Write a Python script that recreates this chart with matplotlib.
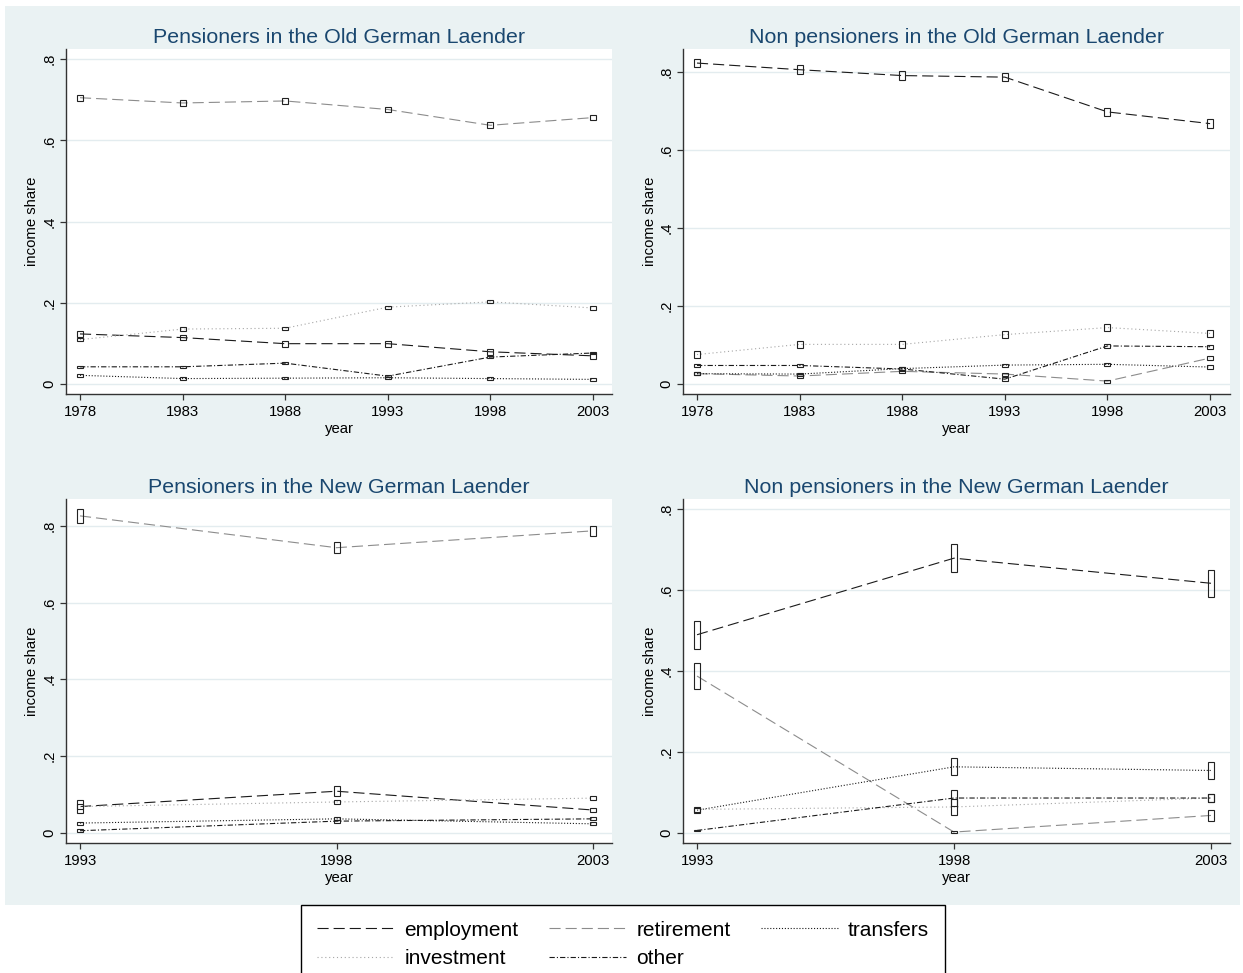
import numpy as np
import matplotlib
matplotlib.use("Agg")
import matplotlib.pyplot as plt
from matplotlib.lines import Line2D
from matplotlib.patches import Rectangle

plt.rcParams['font.family'] = ['Liberation Sans', 'DejaVu Sans']
plt.rcParams['lines.scale_dashes'] = False

# income components, in this order everywhere below
components = ["employment", "retirement", "transfers", "investment", "other"]

years_old = [1978, 1983, 1988, 1993, 1998, 2003]
years_new = [1993, 1998, 2003]

# Pensioners, old Laender
po_emp = [0.123, 0.114, 0.099, 0.099, 0.079, 0.069]
po_ret = [0.705, 0.692, 0.697, 0.676, 0.637, 0.656]
po_tra = [0.021, 0.013, 0.014, 0.015, 0.013, 0.011]
po_inv = [0.109, 0.135, 0.137, 0.189, 0.202, 0.187]
po_oth = [0.042, 0.042, 0.051, 0.019, 0.066, 0.076]
po_ci = [0.007, 0.007, 0.003, 0.004, 0.003]

# Non pensioners, old Laender
no_emp = [0.822, 0.805, 0.790, 0.786, 0.697, 0.667]
no_ret = [0.027, 0.021, 0.033, 0.026, 0.008, 0.067]
no_tra = [0.027, 0.026, 0.040, 0.049, 0.051, 0.044]
no_inv = [0.076, 0.102, 0.102, 0.127, 0.145, 0.130]
no_oth = [0.048, 0.048, 0.039, 0.013, 0.098, 0.096]
no_ci = [0.011, 0.004, 0.004, 0.008, 0.005]

# Pensioners, new Laender
pn_emp = [0.068, 0.108, 0.059]
pn_ret = [0.826, 0.743, 0.787]
pn_tra = [0.025, 0.036, 0.023]
pn_inv = [0.068, 0.080, 0.090]
pn_oth = [0.005, 0.030, 0.036]
pn_ci = [[0.018, 0.013, 0.006], [0.018, 0.014, 0.013], 0.004, 0.006, 0.004]

# Non pensioners, new Laender
nn_emp = [0.490, 0.679, 0.617]
nn_ret = [0.388, 0.003, 0.044]
nn_tra = [0.057, 0.164, 0.155]
nn_inv = [0.059, 0.065, 0.087]
nn_oth = [0.007, 0.087, 0.087]
nn_ci = [0.034, [0.032, 0.002, 0.014], [0.006, 0.021, 0.021], [0.006, 0.02, 0.01], [0.002, 0.02, 0.01]]

titles = ["Pensioners in the Old German Laender",
          "Non pensioners in the Old German Laender",
          "Pensioners in the New German Laender",
          "Non pensioners in the New German Laender"]

W, H = 1243, 973
BG = '#EAF2F3'
NAVY = '#1A476F'

styles = {
    "employment": dict(color='#1a1a1a', ls=(0, (8.0, 3.6))),
    "retirement": dict(color='#8c8c8c', ls=(0, (8.0, 3.6))),
    "transfers": dict(color='#1a1a1a', ls=(0, (0.8, 1.3))),
    "investment": dict(color='#a6a6a6', ls=(0, (0.8, 2.0))),
    "other": dict(color='#1a1a1a', ls=(0, (3.8, 1.5, 0.8, 1.5))),
}


def px_rect(left, top, right, bottom):
    return [left / W, 1 - bottom / H, (right - left) / W, (bottom - top) / H]


fig = plt.figure(figsize=(W / 100, H / 100), dpi=100)
fig.patch.set_facecolor('white')
fig.add_artist(Rectangle((5 / W, 1 - 905 / H), 1235 / W, 899 / H,
                         transform=fig.transFigure, facecolor=BG,
                         edgecolor='none', zorder=0))

panels = [
    (years_old, [po_emp, po_ret, po_tra, po_inv, po_oth], po_ci,
     (66, 49, 612, 394), (1977.318, 2003.93), (-0.025, 0.825)),
    (years_old, [no_emp, no_ret, no_tra, no_inv, no_oth], no_ci,
     (683, 49, 1230, 394), (1977.318, 2003.97), (-0.025, 0.858)),
    (years_new, [pn_emp, pn_ret, pn_tra, pn_inv, pn_oth], pn_ci,
     (66, 499, 612, 843), (1992.727, 2003.37), (-0.027, 0.870)),
    (years_new, [nn_emp, nn_ret, nn_tra, nn_inv, nn_oth], nn_ci,
     (683, 499, 1230, 843), (1992.727, 2003.37), (-0.024, 0.825)),
]

for (years, series, cis, box, xlim, ylim), title in zip(panels, titles):
    ax = fig.add_axes(px_rect(*box))
    ax.set_facecolor('white')
    ax.set_xlim(*xlim)
    ax.set_ylim(*ylim)
    x = np.array(years)
    # box width of about 6 pixels in data units
    bw = 6 * (xlim[1] - xlim[0]) / (box[2] - box[0])
    for name, vals, ci in zip(components, series, cis):
        v = np.array(vals)
        c = np.broadcast_to(np.array(ci, dtype=float), v.shape)
        st = styles[name]
        ax.plot(x, v, color=st['color'], linestyle=st['ls'], lw=0.8, zorder=3)
        ax.bar(x, 2 * c, bottom=v - c, width=bw, fill=False,
               edgecolor='#222222', linewidth=0.8, zorder=4)

    ax.set_yticks([0, 0.2, 0.4, 0.6, 0.8])
    ax.set_yticklabels(["0", ".2", ".4", ".6", ".8"], rotation=90, va='center')
    ax.set_xticks(years)
    ax.grid(axis='y', color='#E3ECEF', lw=1.0, zorder=1)
    ax.set_axisbelow(True)
    for s in ['top', 'right']:
        ax.spines[s].set_visible(False)
    for s in ['left', 'bottom']:
        ax.spines[s].set_color('#333333')
        ax.spines[s].set_linewidth(1.0)
    ax.tick_params(direction='out', length=4, width=0.9, color='#333333',
                   labelsize=10.7, pad=3)
    ax.tick_params(axis='x', pad=4)
    ax.set_xlabel("year", fontsize=10.7, labelpad=2)
    ax.set_ylabel("income share", fontsize=10.7, labelpad=2)
    ax.set_title(title, color=NAVY, fontsize=15.4, pad=4)

handles = {name: Line2D([], [], color=styles[name]['color'],
                        linestyle=styles[name]['ls'], lw=0.8)
           for name in components}
# legend fills column by column, so order entries to read row by row
order = ["employment", "investment", "retirement", "other", "transfers"]
leg = fig.legend([handles[n] for n in order], order, ncol=3,
                 loc='upper center', bbox_to_anchor=(623 / W, 1 - 905 / H),
                 fontsize=15, frameon=True, fancybox=False,
                 edgecolor='black', facecolor='white', framealpha=1,
                 handlelength=3.7, handletextpad=0.5, columnspacing=1.45,
                 labelspacing=0.45, borderpad=0.75, borderaxespad=0)
leg.get_frame().set_linewidth(1.0)

fig.savefig("out.png", dpi=100)
